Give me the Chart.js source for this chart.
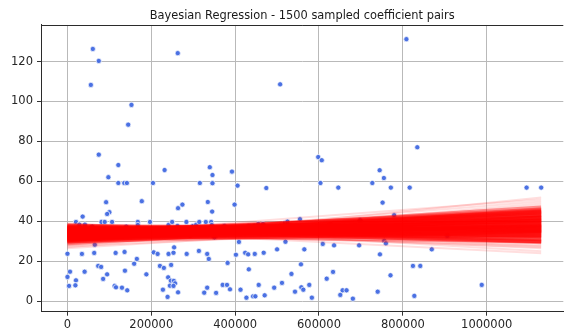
<!DOCTYPE html>
<html><head><meta charset="utf-8">
<script src="https://cdn.jsdelivr.net/npm/chart.js@4/dist/chart.umd.min.js"></script>
<style>html,body{margin:0;padding:0;background:#fff}#wrap{width:568px;height:331px}</style>
</head><body><div id="wrap"><canvas id="c" width="568" height="331"></canvas></div>
<script>
const titleText = "Bayesian Regression - 1500 sampled coefficient pairs";

// observed data points (x, y)
const pointX = [60500,74700,55800,152700,144900,74700,263100,507300,808500,834500,598100,606600,
121300,231700,339500,345900,392400,97600,121300,135500,141800,204000,315800,345900,405700,474300,177300,92200,334800,398600,274200,263800,100000,94600,345100,36200,20300,28400,41600,59100,81100,88900,106400,140200,167800,167800,196900,241100,249700,262400,283700,299300,307300,314400,330000,342800,344200,374200,432600,445900,455300,466400,519100,254400,92200,213500,293100,350600,65200,409000,520000,0,34500,63800,114900,136200,205700,215100,241100,252900,254400,284400,313500,333300,337100,401900,423900,431000,446800,468100,500000,165500,159100,73300,80400,220600,230000,247300,382000,137100,40900,6100,94600,188200,432600,0,20300,85100,240200,246600,253700,256700,3800,18900,112500,244400,252900,370200,380600,456200,115800,130000,333300,227700,142600,387700,412800,326200,354600,263800,493100,238800,426900,442700,448200,470400,511700,
744700,754800,603500,646100,727200,771400,816300,1095200,1130000,751700,779200,554600,524800,698100,509000,531900,626500,559300,906100,755600,759600,609000,635900,695700,565000,869000,745400,557000,824100,841600,633500,534300,618400,770600,576800,988200,557900,562600,656300,665700,542800,740000,650800,827400,583000,680800];
const pointY = [126.3,120.3,108.3,98.3,88.4,73.4,124.2,108.6,131.2,77.1,72.2,70.6,
68.2,65.7,67.1,63.2,64.9,62.1,59.2,59.2,59.2,59.2,59.2,59.1,57.9,56.7,50.1,49.6,49.7,48.4,48.4,46.6,44.6,43.7,44.9,42.4,39.7,38.4,38.4,37.4,39.7,39.7,39.7,37.4,39.7,38.2,39.7,38.2,39.7,37.7,39.7,37.7,38.4,39.7,39.7,39.7,38.2,37.7,37.7,37.7,38.7,38.7,39.3,36.5,34.8,34.3,33.2,32.0,28.3,29.7,29.8,23.8,23.7,24.2,24.2,24.7,24.5,23.7,23.7,24.3,27.0,23.7,25.2,23.7,21.2,23.3,24.3,23.5,23.7,24.3,26.0,21.2,18.8,17.7,17.2,17.7,16.7,18.2,19.2,15.3,14.8,14.8,13.5,13.5,16.0,12.2,10.5,11.2,12.0,10.3,10.2,9.0,7.7,8.0,7.7,7.8,7.7,8.2,8.2,8.2,7.0,6.8,6.8,5.8,5.5,6.0,5.8,4.3,4.2,4.5,6.8,2.2,1.8,2.5,2.5,3.0,9.2,
65.6,61.7,59.2,56.9,59.2,56.9,56.9,56.9,56.9,49.4,43.1,41.1,39.9,40.6,37.7,37.7,38.2,35.3,32.7,30.3,29.0,28.7,28.0,28.0,26.0,26.0,23.5,18.5,17.7,17.7,14.7,13.7,11.3,13.0,8.2,8.2,7.0,5.8,5.5,5.5,4.8,4.8,3.2,2.7,1.8,1.3];

// sampled regression lines: value at start and end of the x range
const lineXRange = [0, 1130000];
// bulk of the posterior samples
const coreStart = [33,32,34,31,35,33.5,36,30.5,34.5,32.5,37,31.5,35.5,30,36.5,33,37.5,32,34,35,31,36,33,29.5,37.5,34.5,32.5,35.5,30.5,36.5,31.5,34,38,33,29,35,32,36.5,30,37,
33.5,32.5,34.5,31.5,35,33,36,31,34,32,37,30.5,35.5,33,36.5,32,34.5,37.5,31,35];
const coreEnd = [37,39,36,41,35,43,33,43,40,34,31,45,38,38,36,46,30,35.5,42,32,37,40,30,45,35,34.5,42,30,40,38.5,33,44.5,32.5,40.5,42,37,47,29.5,35,34,
38,40.5,37.5,39,39.5,44,36.5,42,35,37.5,35.5,45.5,41,33,32,43,45,37,35,43.5];
// sparse outlying samples
const tailStart = [28,27,38.5,26.5,31,37.5,29,35,28,39,33,36,27.5,30,38.5,29.5,34];
const tailEnd = [44,47,27.5,41,50,26.5,49,27,52,25,51,24,38,46.5,29,48,28];

const xTicks = [0,200000,400000,600000,800000,1000000];
const yTicks = [0,20,40,60,80,100,120];

const datasets = [];
datasets.push({
  label: 'data',
  data: pointX.map((x,i)=>({x:x, y:pointY[i]})),
  backgroundColor: 'rgba(65,105,225,0.95)',
  borderColor: '#ffffff',
  borderWidth: 0.7,
  pointRadius: 2.6,
  showLine: false,
  order: 10
});
function addLines(starts, ends, color, width){
  starts.forEach((s,i)=>{
    datasets.push({
      label: 'line',
      data: [{x:lineXRange[0], y:s},{x:lineXRange[1], y:ends[i]}],
      showLine: true,
      borderColor: color,
      borderWidth: width,
      pointRadius: 0,
      fill: false,
      order: 1
    });
  });
}
addLines(tailStart, tailEnd, 'rgba(255,0,0,0.13)', 2);
addLines(coreStart, coreEnd, 'rgba(255,0,0,0.38)', 4);

const topSpine = {
  id: 'topSpine',
  afterDraw(chart){
    const {ctx, chartArea:a} = chart;
    ctx.save();
    ctx.strokeStyle = '#2b2b2b';
    ctx.lineWidth = 1;
    ctx.beginPath();
    ctx.moveTo(a.left, Math.round(a.top)+0.5);
    ctx.lineTo(a.right, Math.round(a.top)+0.5);
    ctx.stroke();
    ctx.restore();
  }
};

const tickFont = {family:'DejaVu Sans', size:11.5};
new Chart(document.getElementById('c'), {
  type: 'scatter',
  data: {datasets},
  plugins: [topSpine],
  options: {
    responsive: false,
    devicePixelRatio: 1,
    animation: false,
    layout: {padding: 0},
    plugins: {
      legend: {display:false},
      tooltip: {enabled:false},
      title: {
        display: true, text: titleText, fullSize: false,
        font: {family:'DejaVu Sans', size:11.4, weight:'normal'},
        color: '#1a1a1a',
        padding: {top:9, bottom:2.3}
      }
    },
    scales: {
      x: {
        type: 'linear', min: -63120, max: 1182743,
        afterBuildTicks: s => { s.ticks = xTicks.map(v=>({value:v})); },
        afterFit: s => { s.height = 19.3; },
        ticks: {callback: v => String(v), font: tickFont, color:'#262626', padding: 2, maxRotation:0, autoSkip:false, includeBounds:false},
        grid: {color:'#b9b9b9', lineWidth:1, tickLength:4, tickColor:'#333', drawTicks:true},
        border: {color:'#2b2b2b', width:1}
      },
      y: {
        type: 'linear', min: -5.21, max: 138.3,
        afterBuildTicks: s => { s.ticks = yTicks.map(v=>({value:v})); },
        afterFit: s => { s.width = 41; },
        ticks: {callback: v => String(v), font: tickFont, color:'#262626', padding: 4, includeBounds:false},
        grid: {color:'#b9b9b9', lineWidth:1, tickLength:4, tickColor:'#333', drawTicks:true},
        border: {color:'#2b2b2b', width:1}
      }
    }
  }
});
</script>
</body></html>
